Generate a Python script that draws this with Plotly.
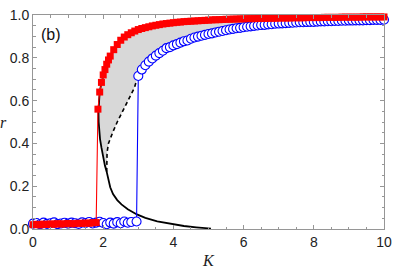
import plotly.graph_objects as go

# ---------------- data ----------------
red_K_low = [0.0, 0.1, 0.2, 0.3, 0.4, 0.5, 0.6, 0.7, 0.8, 0.9, 1.0, 1.1, 1.2, 1.3, 1.4, 1.5, 1.6, 1.7, 1.8]
red_r_low = [0.020, 0.022, 0.019, 0.023, 0.021, 0.024, 0.022, 0.025, 0.023, 0.024, 0.026, 0.024, 0.025, 0.027, 0.026, 0.028, 0.027, 0.029, 0.030]
red_K_high = [1.85, 1.9, 1.95, 2.0, 2.05, 2.1, 2.15, 2.2, 2.3, 2.4, 2.5, 2.6, 2.7, 2.8, 2.9,
              3.0, 3.1, 3.2, 3.3, 3.4, 3.5, 3.6, 3.7, 3.8, 3.9, 4.0, 4.1, 4.2, 4.3, 4.4, 4.5, 4.6, 4.7, 4.8, 4.9,
              5.0, 5.1, 5.2, 5.3, 5.4, 5.5, 5.6, 5.7, 5.8, 5.9, 6.0, 6.1, 6.2, 6.3, 6.4, 6.5, 6.6, 6.7, 6.8, 6.9,
              7.0, 7.1, 7.2, 7.3, 7.4, 7.5, 7.6, 7.7, 7.8, 7.9, 8.0, 8.1, 8.2, 8.3, 8.4, 8.5, 8.6, 8.7, 8.8, 8.9,
              9.0, 9.1, 9.2, 9.3, 9.4, 9.5, 9.6, 9.7, 9.8, 9.9, 10.0]
red_r_high = [0.56, 0.64, 0.685, 0.72, 0.745, 0.77, 0.79, 0.808, 0.838, 0.862, 0.882, 0.897, 0.908, 0.917, 0.925,
              0.932, 0.937, 0.941, 0.945, 0.949, 0.952, 0.955, 0.958, 0.960, 0.962, 0.964, 0.966, 0.967, 0.969, 0.970, 0.971, 0.972, 0.973, 0.974, 0.975,
              0.976, 0.977, 0.978, 0.978, 0.979, 0.980, 0.980, 0.981, 0.981, 0.982, 0.982, 0.983, 0.983, 0.983, 0.984, 0.984, 0.984, 0.985, 0.985, 0.985,
              0.986, 0.986, 0.986, 0.986, 0.987, 0.987, 0.987, 0.987, 0.988, 0.988, 0.988, 0.988, 0.988, 0.989, 0.989, 0.989, 0.989, 0.989, 0.990, 0.990,
              0.990, 0.990, 0.990, 0.990, 0.991, 0.991, 0.991, 0.991, 0.991, 0.991, 0.991]

blue_K_low = [0.0, 0.1, 0.2, 0.3, 0.4, 0.5, 0.6, 0.7, 0.8, 0.9, 1.0, 1.1, 1.2, 1.3, 1.4, 1.5, 1.6, 1.7, 1.8, 1.9,
              2.0, 2.1, 2.2, 2.3, 2.4, 2.5, 2.6, 2.7, 2.8, 2.95]
blue_r_low = [0.025, 0.028, 0.022, 0.030, 0.024, 0.027, 0.031, 0.023, 0.026, 0.029, 0.025, 0.030, 0.027, 0.024, 0.031, 0.028, 0.033, 0.026, 0.030, 0.034,
              0.028, 0.022, 0.030, 0.025, 0.032, 0.027, 0.035, 0.029, 0.033, 0.035]
blue_K_high = [3.0, 3.1, 3.2, 3.3, 3.4, 3.5, 3.6, 3.7, 3.8, 3.9, 4.0, 4.1, 4.2, 4.3, 4.4, 4.5, 4.6, 4.7, 4.8, 4.9,
               5.0, 5.1, 5.2, 5.3, 5.4, 5.5, 5.6, 5.7, 5.8, 5.9, 6.0, 6.1, 6.2, 6.3, 6.4, 6.5, 6.6, 6.7, 6.8, 6.9,
               7.0, 7.1, 7.2, 7.3, 7.4, 7.5, 7.6, 7.7, 7.8, 7.9, 8.0, 8.1, 8.2, 8.3, 8.4, 8.5, 8.6, 8.7, 8.8, 8.9,
               9.0, 9.1, 9.2, 9.3, 9.4, 9.5, 9.6, 9.7, 9.8, 9.9, 10.0]
blue_r_high = [0.715, 0.745, 0.765, 0.782, 0.797, 0.810, 0.822, 0.833, 0.845, 0.850, 0.858, 0.864, 0.871, 0.877, 0.881, 0.889, 0.895, 0.899, 0.903, 0.907,
               0.911, 0.914, 0.918, 0.922, 0.925, 0.929, 0.932, 0.935, 0.938, 0.940, 0.943, 0.945, 0.947, 0.949, 0.951, 0.953, 0.954, 0.956, 0.957, 0.959,
               0.960, 0.961, 0.962, 0.963, 0.964, 0.965, 0.966, 0.966, 0.967, 0.968, 0.968, 0.969, 0.970, 0.970, 0.971, 0.971, 0.972, 0.972, 0.973, 0.973,
               0.974, 0.974, 0.975, 0.975, 0.975, 0.976, 0.976, 0.977, 0.977, 0.977, 0.978]

# theory: solid branch (upper branch, fold, lower branch) and dashed unstable branch
solid_K = [10.0, 8.0, 6.0, 5.0, 4.0, 3.5, 3.0, 2.7, 2.5, 2.3, 2.2, 2.1, 2.0, 1.95, 1.9, 1.875, 1.865, 1.87, 1.885, 1.91, 1.95, 2.0, 2.05, 2.1,
           2.14, 2.2, 2.28, 2.4, 2.52, 2.7, 2.96, 3.2, 3.54, 4.0, 4.3, 4.65, 5.07]
solid_r = [0.991, 0.988, 0.982, 0.976, 0.964, 0.952, 0.932, 0.908, 0.882, 0.838, 0.808, 0.77, 0.72, 0.685, 0.64, 0.60, 0.55, 0.50, 0.46, 0.42, 0.38, 0.33, 0.295, 0.267,
           0.235, 0.195, 0.163, 0.135, 0.115, 0.092, 0.068, 0.052, 0.036, 0.021, 0.014, 0.008, 0.002]
fold_index = 23  # position of (2.1, 0.267) in solid_K / solid_r, where dashed branch begins
dashed_K = [2.1, 2.1, 2.11, 2.15, 2.21, 2.28, 2.4, 2.52, 2.64, 2.75, 2.89, 2.98]
dashed_r = [0.267, 0.31, 0.357, 0.40, 0.43, 0.455, 0.50, 0.538, 0.578, 0.614, 0.66, 0.712]

x_tick_step = 2
y_tick_step = 0.2

# ---------------- figure ----------------
fig = go.Figure()

# grey hysteresis region
fill_K = solid_K[:fold_index + 1] + dashed_K + blue_K_high
fill_r = solid_r[:fold_index + 1] + dashed_r + blue_r_high
fig.add_trace(go.Scatter(x=fill_K, y=fill_r, mode="lines", fill="toself",
                         fillcolor="rgb(216,216,216)", line=dict(width=0),
                         hoverinfo="skip", showlegend=False))

fig.add_trace(go.Scatter(x=solid_K, y=solid_r, mode="lines",
                         line=dict(color="black", width=1.8), showlegend=False))
fig.add_trace(go.Scatter(x=dashed_K, y=dashed_r, mode="lines",
                         line=dict(color="black", width=1.6, dash="4px,3px"), showlegend=False))

blue_K = blue_K_low + blue_K_high
blue_r = blue_r_low + blue_r_high
fig.add_trace(go.Scatter(x=blue_K, y=blue_r, mode="lines+markers", cliponaxis=False,
                         line=dict(color="rgb(0,0,255)", width=1.1),
                         marker=dict(symbol="circle", size=9, color="white",
                                     line=dict(color="rgb(0,0,255)", width=1.1)),
                         showlegend=False))

red_K = red_K_low + red_K_high
red_r = red_r_low + red_r_high
fig.add_trace(go.Scatter(x=red_K, y=red_r, mode="lines+markers", cliponaxis=False,
                         line=dict(color="rgb(255,0,0)", width=1.1),
                         marker=dict(symbol="square", size=7, color="rgb(255,0,0)",
                                     line=dict(width=0)),
                         showlegend=False))

axis_common = dict(showline=True, linecolor="rgb(150,150,150)", linewidth=1,
                   mirror="ticks", ticks="inside", ticklen=4, tickwidth=1,
                   tickcolor="rgb(150,150,150)", showgrid=False, zeroline=False,
                   ticklabeloverflow="allow",
                   tickfont=dict(family="Liberation Sans, Arial, sans-serif", size=14, color="#222"))

fig.update_xaxes(range=[0, 10], tickmode="linear", tick0=0, dtick=x_tick_step,
                 minor=dict(dtick=0.5, ticks="inside", ticklen=2.5, tickcolor="rgb(150,150,150)"),
                 **axis_common)
fig.update_yaxes(range=[0, 1], tickmode="linear", tick0=0, dtick=y_tick_step, tickformat=".1f",
                 minor=dict(dtick=0.05, ticks="inside", ticklen=2.5, tickcolor="rgb(150,150,150)"),
                 **axis_common)

fig.add_annotation(text="K", xref="paper", yref="paper", x=0.5, y=0, yshift=-31,
                   xanchor="center", yanchor="middle", showarrow=False,
                   font=dict(family="Liberation Serif, Times New Roman, serif", size=16, color="#222", style="italic"))
fig.add_annotation(text="r", xref="paper", yref="paper", x=0, y=0.5, xshift=-30,
                   xanchor="center", yanchor="middle", showarrow=False,
                   font=dict(family="Liberation Serif, Times New Roman, serif", size=16, color="#222", style="italic"))
fig.add_annotation(text="(b)", xref="paper", yref="paper", x=0, y=1, xshift=6, yshift=-9,
                   xanchor="left", yanchor="top", showarrow=False,
                   font=dict(family="Liberation Sans, Arial, sans-serif", size=16, color="#111"))

fig.update_layout(width=399, height=271, margin=dict(l=33, r=7, t=8, b=42),
                  plot_bgcolor="white", paper_bgcolor="white")

fig.write_html("out.html", config={"displayModeBar": False, "staticPlot": True},
               post_script="document.body.style.margin='0';document.body.style.padding='0';"
                           "document.body.style.overflow='hidden';")
